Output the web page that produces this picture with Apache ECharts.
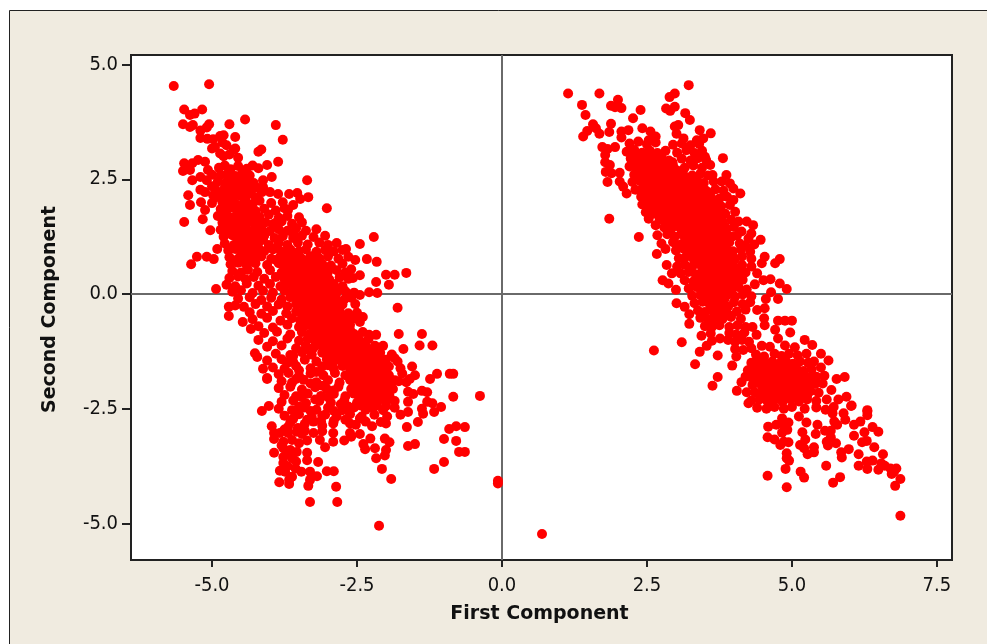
<!DOCTYPE html>
<html><head><meta charset="utf-8">
<style>html,body{margin:0;padding:0;background:#fff}#c{width:987px;height:644px}</style>
<script src="https://cdn.jsdelivr.net/npm/echarts@6/dist/echarts.min.js"></script>
</head><body><div id="c"></div>
<script>
const xTicks=[-5,-2.5,0,2.5,5,7.5];
const yTicks=[-5,-2.5,0,2.5,5];
const xTitle='First Component';
const yTitle='Second Component';
const isolated=[[-0.07,-4.07],[-0.07,-4.13],[0.69,-5.23],[6.87,-4.83],[-2.12,-5.05],[2.62,-1.23],[1.85,1.64],[2.36,1.24]];
const leftEdge=[[-5.66,4.53],[-5.05,4.57],[-5.48,4.02],[-5.38,3.9],[-5.3,3.93],[-5.17,4.02],[-5.5,3.7],[-5.38,3.64],[-5.33,3.68],[-5.05,3.7],[-5.09,3.63],[-5.2,3.56],[-4.7,3.7],[-4.43,3.8],[-3.9,3.68],[-3.78,3.36],[-4.6,3.42],[-5.2,3.4],[-5.08,3.38],[-4.98,3.37],[-4.86,3.44],[-4.8,3.46],[-4.82,3.3],[-5,3.17],[-4.86,3.06],[-4.63,3.14],[-4.2,3.1],[-4.15,3.15],
[-5.48,2.85],[-5.5,2.68],[-5.34,2.85],[-5.24,2.92],[-5.12,2.88],[-5.38,2.7],[-5.2,2.55],[-5.34,2.48],[-5.07,2.7],[-5.09,2.48],[-5.2,2.27],[-5.12,2.22],[-5.41,2.15],[-5.38,1.94],[-5.19,2],[-5.12,1.83],[-5,1.98],[-4.93,2.11],[-4.05,2.81],[-3.86,2.88],[-3.97,2.55],[-4.12,2.48],[-4.12,2.33],[-4.14,2.22],[-4,2.22],[-3.86,2.18],[-3.67,2.18],[-3.53,2.2],[-3.48,2.07],[-3.34,2.11],[-3.36,2.48],[-3.78,2],[-3.6,1.94],[-3.69,1.83],[-3.02,1.87],
[-5.48,1.57],[-5.16,1.63],[-5.03,1.39],[-4.91,0.98],[-5.26,0.81],[-5.36,0.65],[-5.09,0.81],[-4.97,0.76],[-4.93,0.11],[-4.71,-0.28],[-4.71,-0.48],[-4.47,-0.61],[-4.33,-0.76],[-4.26,-1.29],[-4.22,-1.37],[-4.12,-1.63],[-4.05,-1.83],
[-2.21,1.24],[-2.45,1.09],[-2.69,0.98],[-2.33,0.76],[-2.16,0.7],[-2.53,0.74],[-2.6,0.54],[-2.45,0.41],[-2.57,0.35],[-2.17,0.26],[-2.29,0.04],[-2.45,-0.02],[-2.53,-0.22],[-2.5,-0.41],[-2.4,-0.5],[-2.45,-0.61],[-2.29,-0.89],[-2.17,-0.89],[-2.19,-1.13],[-2.0,0.42],[-1.85,0.42],[-1.65,0.46],[-1.95,0.2],[-2.15,0.02],[-1.8,-0.3],[-1.78,-0.87],[-1.38,-0.87],[-1.2,-1.12],[-1.42,-1.12],[-1.85,-1.4],[-1.7,-1.2],
[-4.05,-1.85],[-4.14,-2.55],[-4.02,-2.44],[-3.97,-2.88],[-3.93,-3.46],[-3.84,-4.1],[-3.67,-4.14],[-3.34,-4.18],[-3.31,-4.53],[-2.84,-4.53],[-2.86,-4.2],[-1.91,-4.03],[-2.07,-3.81],[-3.02,-3.86],[-2.9,-3.86],[-3.17,-3.66],[-3.19,-3.97],[-1.17,-3.81],[-1,-3.66],[-0.74,-3.44],[-0.64,-3.44],[-0.79,-3.2],[-1,-3.16],[-1.62,-3.31],[-1.5,-3.27],[-0.91,-2.94],[-0.79,-2.88],[-0.64,-2.9],[-0.38,-2.22],[-0.84,-2.24],[-1.64,-2.9],[-2.24,-2.88],[-2.09,-2.79],[-1.45,-2.79],[-1.62,-2.35],[-1.62,-2.57],[-1.38,-2.5],[-1.36,-2.61],[-1.17,-2.57],[-1.05,-2.46],[-1.29,-2.35],[-1.2,-2.38],[-1.62,-2.13],[-1.53,-2.18],[-1.38,-2.11],[-1.29,-2.14],[-1.24,-1.85],[-1.12,-1.74],[-0.9,-1.74],[-0.84,-1.74],[-1.59,-1.85],[-1.78,-1.9],
[-3.93,-3.03],[-3.83,-3.03],[-3.69,-3.03],[-3.54,-3.0],[-3.69,-2.9],[-3.93,-3.16],[-3.77,-3.22],[-3.62,-3.18],[-3.77,-3.36],[-3.65,-3.4],[-3.54,-3.44],[-3.36,-3.46],[-3.77,-3.55],[-3.62,-3.58],[-3.36,-3.62],[-3.77,-3.68],[-3.83,-3.85],[-3.74,-3.87],[-3.56,-3.8],[-3.46,-3.87],[-3.31,-3.87],[-3.62,-3.98],[-3.67,-4.05],[-3.31,-4.05],
[-3.36,-3.19],[-3.25,-3.03],[-3.14,-3.18],[-3.05,-3.34],[-2.91,-3.22],[-2.72,-3.19],[-2.6,-3.11],[-2.45,-3.05],[-3.1,-2.99],[-2.91,-3.03],[-2.62,-3.03],[-3.36,-2.74],[-3.25,-2.78],[-3.1,-2.87],[-2.91,-2.82],[-2.7,-2.74],[-2.52,-2.85],[-2.45,-2.71],[-2.27,-3.15],[-2.39,-3.27],[-2.36,-3.38],[-2.19,-3.36],[-2.17,-3.58],[-2.02,-3.15],[-1.94,-3.23],[-2.0,-3.4],[-2.02,-3.52]];
const leftDense=[[-4.95,3.2],[-4.75,3.24],[-4.6,3.17],[-4.8,3.0],[-4.7,3.04],[-4.55,2.97],
[-4.88,2.75],[-4.78,2.8],[-4.68,2.72],[-4.55,2.79],[-4.4,2.73],[-4.3,2.8],[-4.2,2.74],[-4.85,2.6],[-4.72,2.64],[-4.6,2.57],[-4.48,2.63],[-4.35,2.58],
[-4.9,2.45],[-4.78,2.41],[-4.65,2.48],[-4.5,2.43],[-4.4,2.47],[-4.28,2.42],[-4.95,2.3],[-4.8,2.27],[-4.7,2.33],[-4.58,2.28],[-4.45,2.32],[-4.32,2.26],[-4.2,2.31],
[-4.85,2.15],[-4.75,2.12],[-4.62,2.18],[-4.5,2.13],[-4.38,2.17],[-4.25,2.11],[-4.82,2.0],[-4.7,2.04],[-4.6,1.97],[-4.42,2.02],[-4.3,1.96],[-4.18,2.03],[-3.98,1.98],
[-4.85,1.85],[-4.75,1.82],[-4.62,1.88],[-4.5,1.83],[-4.38,1.87],[-4.25,1.81],[-4.1,1.86],[-3.9,1.82],[-3.75,1.87],[-4.9,1.7],[-4.78,1.73],[-4.65,1.67],[-4.55,1.72],[-4.42,1.66],[-4.3,1.71],[-4.18,1.68],[-4.02,1.73],[-3.85,1.66],[-3.7,1.7],[-3.5,1.67],
[-4.82,1.55],[-4.7,1.52],[-4.6,1.58],[-4.48,1.53],[-4.35,1.57],[-4.2,1.51],[-4.08,1.56],[-3.95,1.52],[-3.8,1.58],[-3.62,1.53],[-3.45,1.56],[-4.85,1.4],[-4.72,1.43],[-4.58,1.37],[-4.45,1.42],[-4.3,1.38],[-4.15,1.42],[-4.0,1.37],[-3.85,1.41],[-3.7,1.38],[-3.55,1.43],[-3.38,1.38],[-3.2,1.41],
[-4.8,1.25],[-4.65,1.28],[-4.52,1.22],[-4.4,1.27],[-4.25,1.23],[-4.1,1.27],[-3.92,1.22],[-3.78,1.26],[-3.6,1.22],[-3.45,1.27],[-3.25,1.24],[-3.05,1.27],[-4.78,1.1],[-4.62,1.07],[-4.5,1.13],[-4.35,1.08],[-4.2,1.12],[-4.02,1.07],[-3.85,1.11],[-3.7,1.07],[-3.52,1.12],[-3.35,1.08],[-3.15,1.12],[-3,1.07],[-2.85,1.11],
[-4.72,0.95],[-4.6,0.98],[-4.42,0.92],[-4.28,0.97],[-4.1,0.93],[-3.95,0.97],[-3.8,0.92],[-3.65,0.97],[-3.5,0.93],[-3.38,0.97],[-3.2,0.92],[-3.05,0.96],[-2.9,0.93],[-2.75,0.96],[-4.7,0.8],[-4.55,0.77],[-4.45,0.83],[-4.3,0.78],[-4.15,0.82],[-3.98,0.77],[-3.82,0.82],[-3.7,0.78],[-3.58,0.83],[-3.45,0.77],[-3.3,0.82],[-3.15,0.78],[-3,0.82],[-2.82,0.77],[-2.65,0.81],
[-4.68,0.65],[-4.55,0.68],[-4.4,0.62],[-4.25,0.67],[-4.05,0.63],[-3.85,0.67],[-3.72,0.62],[-3.6,0.67],[-3.48,0.63],[-3.35,0.67],[-3.22,0.62],[-3.1,0.66],[-2.95,0.62],[-2.75,0.66],[-4.65,0.5],[-4.5,0.47],[-4.38,0.53],[-4.22,0.48],[-4,0.52],[-3.8,0.47],[-3.68,0.52],[-3.55,0.48],[-3.42,0.53],[-3.3,0.47],[-3.15,0.52],[-3,0.48],[-2.85,0.52],[-2.7,0.47],
[-4.7,0.35],[-4.55,0.38],[-4.42,0.32],[-4.28,0.37],[-4.1,0.33],[-3.9,0.37],[-3.75,0.32],[-3.62,0.37],[-3.5,0.33],[-3.38,0.37],[-3.25,0.32],[-3.12,0.36],[-2.98,0.32],[-2.8,0.36],[-2.65,0.33],[-4.75,0.2],[-4.6,0.17],[-4.4,0.23],[-4.2,0.18],[-4,0.22],[-3.82,0.17],[-3.7,0.22],[-3.58,0.18],[-3.45,0.22],[-3.32,0.17],[-3.2,0.22],[-3.05,0.18],[-2.9,0.22],[-2.75,0.17],
[-4.65,0.05],[-4.5,0.08],[-4.3,0.02],[-4.12,0.07],[-3.95,0.03],[-3.75,0.07],[-3.62,0.02],[-3.5,0.07],[-3.38,0.03],[-3.25,0.07],[-3.12,0.02],[-3,0.06],[-2.85,0.02],[-2.7,0.06],[-2.55,0.03],[-4.55,-0.1],[-4.35,-0.07],[-4.15,-0.13],[-3.98,-0.08],[-3.8,-0.12],[-3.65,-0.07],[-3.52,-0.12],[-3.4,-0.08],[-3.28,-0.13],[-3.15,-0.07],[-3.02,-0.12],[-2.88,-0.08],[-2.72,-0.12],[-2.6,-0.08],
[-4.6,-0.25],[-4.45,-0.28],[-4.25,-0.22],[-4.05,-0.27],[-3.85,-0.23],[-3.7,-0.27],[-3.55,-0.22],[-3.42,-0.27],[-3.3,-0.23],[-3.18,-0.27],[-3.05,-0.22],[-2.9,-0.27],[-2.75,-0.23],[-4.35,-0.4],[-4.15,-0.43],[-3.95,-0.37],[-3.72,-0.42],[-3.55,-0.38],[-3.45,-0.43],[-3.32,-0.37],[-3.2,-0.42],[-3.08,-0.38],[-2.95,-0.43],[-2.8,-0.37],[-2.65,-0.42],
[-4.3,-0.55],[-4.05,-0.52],[-3.82,-0.58],[-3.62,-0.53],[-3.48,-0.57],[-3.35,-0.52],[-3.22,-0.57],[-3.1,-0.53],[-2.98,-0.58],[-2.85,-0.52],[-2.7,-0.57],[-2.55,-0.53],[-4.2,-0.7],[-3.95,-0.73],[-3.7,-0.67],[-3.5,-0.72],[-3.38,-0.68],[-3.25,-0.73],[-3.12,-0.67],[-3,-0.72],[-2.88,-0.68],[-2.75,-0.73],[-2.62,-0.67],
[-4.1,-0.85],[-3.88,-0.82],[-3.65,-0.88],[-3.45,-0.83],[-3.32,-0.87],[-3.2,-0.82],[-3.08,-0.87],[-2.95,-0.83],[-2.82,-0.88],[-2.7,-0.82],[-2.55,-0.87],[-2.4,-0.83],[-4.2,-1],[-3.95,-1.03],[-3.7,-0.97],[-3.5,-1.02],[-3.35,-0.98],[-3.22,-1.03],[-3.1,-0.97],[-2.98,-1.02],[-2.86,-0.98],[-2.74,-1.03],[-2.6,-0.97],[-2.45,-1.02],[-2.3,-0.98],
[-4.05,-1.15],[-3.8,-1.12],[-3.55,-1.18],[-3.38,-1.13],[-3.25,-1.17],[-3.12,-1.12],[-3,-1.17],[-2.88,-1.13],[-2.76,-1.18],[-2.64,-1.12],[-2.5,-1.17],[-2.35,-1.13],[-2.2,-1.17],[-2.05,-1.13],[-3.9,-1.3],[-3.65,-1.33],[-3.45,-1.27],[-3.28,-1.32],[-3.1,-1.28],[-2.98,-1.33],[-2.86,-1.27],[-2.74,-1.32],[-2.62,-1.28],[-2.5,-1.33],[-2.38,-1.27],[-2.25,-1.32],[-2.1,-1.28],[-1.9,-1.32],
[-4.05,-1.45],[-3.8,-1.42],[-3.6,-1.48],[-3.4,-1.43],[-3.2,-1.47],[-3.02,-1.42],[-2.9,-1.47],[-2.78,-1.43],[-2.66,-1.48],[-2.54,-1.42],[-2.42,-1.47],[-2.3,-1.43],[-2.18,-1.47],[-2,-1.43],[-1.8,-1.47],[-3.95,-1.6],[-3.75,-1.63],[-3.55,-1.57],[-3.3,-1.62],[-3.1,-1.58],[-2.9,-1.63],[-2.75,-1.57],[-2.62,-1.62],[-2.5,-1.58],[-2.38,-1.63],[-2.26,-1.57],[-2.12,-1.62],[-1.95,-1.58],[-1.75,-1.62],[-1.55,-1.58],
[-3.85,-1.75],[-3.68,-1.72],[-3.5,-1.78],[-3.3,-1.73],[-3.08,-1.77],[-2.88,-1.72],[-2.7,-1.77],[-2.58,-1.73],[-2.46,-1.78],[-2.34,-1.72],[-2.22,-1.77],[-2.1,-1.73],[-1.95,-1.77],[-1.72,-1.73],[-1.5,-1.77],[-3.8,-1.9],[-3.62,-1.93],[-3.42,-1.87],[-3.2,-1.92],[-3,-1.88],[-2.8,-1.93],[-2.62,-1.87],[-2.5,-1.92],[-2.38,-1.88],[-2.26,-1.93],[-2.14,-1.87],[-2.02,-1.92],[-1.85,-1.88],[-1.65,-1.92],
[-3.85,-2.05],[-3.65,-2.02],[-3.45,-2.08],[-3.22,-2.03],[-3.02,-2.07],[-2.82,-2.02],[-2.6,-2.07],[-2.48,-2.03],[-2.36,-2.08],[-2.24,-2.02],[-2.12,-2.07],[-2,-2.03],[-1.88,-2.07],[-3.75,-2.2],[-3.55,-2.23],[-3.35,-2.17],[-3.12,-2.22],[-2.9,-2.18],[-2.7,-2.23],[-2.55,-2.17],[-2.42,-2.22],[-2.3,-2.18],[-2.18,-2.23],[-2.06,-2.17],[-1.94,-2.22],
[-3.8,-2.35],[-3.6,-2.32],[-3.38,-2.38],[-3.15,-2.33],[-2.95,-2.37],[-2.72,-2.32],[-2.5,-2.37],[-2.38,-2.33],[-2.26,-2.38],[-2.14,-2.32],[-2,-2.37],[-1.85,-2.33],[-3.85,-2.5],[-3.62,-2.53],[-3.4,-2.47],[-3.2,-2.52],[-3,-2.48],[-2.75,-2.53],[-2.55,-2.47],[-2.35,-2.52],[-2.22,-2.48],[-2.05,-2.53],[-1.85,-2.48],
[-3.75,-2.65],[-3.5,-2.62],[-3.28,-2.68],[-3.05,-2.63],[-2.85,-2.67],[-2.62,-2.62],[-2.42,-2.67],[-2.2,-2.63],[-1.98,-2.67],[-1.75,-2.63],[-3.65,-2.8],[-3.4,-2.83],[-3.12,-2.77],[-2.9,-2.76],[-2.62,-2.82],[-2.35,-2.78],[-2,-2.82]];
const leftCore=[[-4.72,2.5],[-4.58,2.4],[-4.45,2.52],[-4.33,2.36],[-4.66,2.22],[-4.52,2.2],[-4.4,2.24],[-4.76,2.06],[-4.64,2.08],[-4.48,1.94],[-4.35,1.92],[-4.7,1.9],[-4.56,1.8],[-4.44,1.78],[-4.32,1.79],[-4.72,1.62],[-4.6,1.64],[-4.5,1.6],[-4.38,1.62],[-4.26,1.6],[-4.78,1.46],[-4.65,1.46],[-4.52,1.47],[-4.42,1.48],[-4.24,1.45],[-4.7,1.33],[-4.58,1.32],[-4.46,1.33],[-4.32,1.31],[-4.18,1.34],[-4.56,1.15],[-4.42,1.16],[-4.28,1.15],[-4.12,1.18],[-4.66,1],[-4.5,1],[-4.35,1.01],[-4.2,1],[-4.5,0.86],[-4.36,0.87],[-4.22,0.87],[-4.6,0.72],[-4.46,0.7],[-4.32,0.72],
[-3.9,1],[-3.72,0.88],[-3.55,0.88],[-3.9,0.74],[-3.78,0.72],[-3.66,0.72],[-3.54,0.72],[-3.42,0.72],[-3.28,0.72],[-3.75,0.57],[-3.62,0.56],[-3.5,0.56],[-3.38,0.58],[-3.24,0.56],[-3.08,0.57],[-3.7,0.42],[-3.56,0.42],[-3.44,0.41],[-3.32,0.42],[-3.2,0.42],[-3.06,0.42],[-3.65,0.28],[-3.52,0.27],[-3.4,0.27],[-3.26,0.26],[-3.14,0.28],[-3,0.27],[-3.6,0.12],[-3.48,0.12],[-3.36,0.12],[-3.22,0.13],[-3.1,0.12],[-2.96,0.12],[-2.82,0.11],[-3.58,-0.03],[-3.44,-0.03],[-3.32,-0.02],[-3.18,-0.03],[-3.06,-0.02],[-2.92,-0.03],[-3.48,-0.18],[-3.36,-0.18],[-3.22,-0.17],[-3.1,-0.18],[-2.96,-0.17],[-2.82,-0.17],[-3.38,-0.33],[-3.26,-0.32],[-3.14,-0.33],[-3,-0.32],[-2.86,-0.33],[-3.42,-0.49],[-3.28,-0.48],[-3.16,-0.48],[-3.04,-0.48],[-2.9,-0.47],[-2.76,-0.48],[-3.3,-0.63],[-3.18,-0.63],[-3.06,-0.63],[-2.94,-0.63],[-2.8,-0.63],[-2.66,-0.62],[-3.25,-0.78],[-3.14,-0.78],[-3.02,-0.78],[-2.88,-0.78],[-2.76,-0.78],[-2.62,-0.78],[-3.28,-0.93],[-3.15,-0.92],[-3.03,-0.93],[-2.9,-0.92],[-2.78,-0.93],[-2.66,-0.93],[-2.52,-0.93],[-3.16,-1.07],[-3.04,-1.08],[-2.92,-1.07],[-2.8,-1.08],[-2.68,-1.07],[-2.56,-1.08],[-2.42,-1.08],
[-2.92,-1.23],[-2.8,-1.23],[-2.68,-1.22],[-2.56,-1.23],[-2.44,-1.22],[-2.32,-1.23],[-2.18,-1.23],[-2.84,-1.38],[-2.72,-1.38],[-2.6,-1.37],[-2.48,-1.38],[-2.36,-1.37],[-2.24,-1.38],[-2.1,-1.38],[-2.68,-1.53],[-2.56,-1.52],[-2.44,-1.53],[-2.32,-1.52],[-2.2,-1.53],[-2.06,-1.52],[-2.56,-1.68],[-2.44,-1.67],[-2.32,-1.68],[-2.2,-1.67],[-2.06,-1.67],[-2.52,-1.83],[-2.4,-1.82],[-2.28,-1.83],[-2.16,-1.82],[-2.04,-1.83],[-2.56,-1.98],[-2.42,-1.97],[-2.3,-1.98],[-2.18,-1.97],[-2.06,-1.98],[-1.94,-1.97],[-2.48,-2.13],[-2.36,-2.12],[-2.24,-2.13],[-2.12,-2.12],[-2,-2.13],[-2.46,-2.28],[-2.34,-2.27],[-2.22,-2.28],[-2.1,-2.27],[-1.96,-2.28],[-2.44,-2.43],[-2.3,-2.43],[-2.16,-2.43],[-2,-2.44],
[-3.4,-1.22],[-3.6,-1.35],[-3.7,-1.5],[-3.5,-1.66],[-3.2,-1.7],[-3,-1.55],[-3.55,-1.85],[-3.3,-1.95],[-3.1,-2],[-2.9,-2.1],[-3.45,-2.25],[-3.22,-2.3],[-3,-2.25],[-2.78,-2.4],[-3.5,-2.45],[-3.3,-2.55],[-3.1,-2.65],[-2.9,-2.55],[-2.65,-2.45],[-3.6,-2.72],[-3.52,-2.92],[-3.4,-2.98],[-3.75,-2.95],[-3.8,-3.3],[-3.7,-3.48],[-3.5,-3.25],[-3.45,-3.05],[-3.55,-3.65],[-3.7,-3.75],[-5,2.6],[-5,2.35],[-4.98,2.15],[-3.9,1.55],[-3.6,1.3]];
const rightEdge=[[1.14,4.37],[1.68,4.37],[1.38,4.12],[1.44,3.9],[1.88,4.1],[2,4.23],[1.95,4.07],[2.06,4.05],[2.39,4.01],[2.26,3.83],[1.88,3.71],[1.85,3.53],[1.57,3.7],[1.47,3.55],[1.4,3.43],[1.62,3.61],[1.68,3.49],[1.73,3.2],[1.82,3.16],[1.95,3.2],[1.78,3.03],[1.78,2.87],[1.86,2.81],[1.79,2.66],[1.89,2.63],[2.03,2.64],[1.82,2.44],[2.03,2.45],[2.09,2.34],[2.15,2.19],[2.53,1.64],[2.65,1.5],
[3.22,4.55],[2.98,4.37],[2.89,4.29],[2.83,4.04],[2.9,3.99],[2.98,4.08],[3.16,3.94],[3.24,3.79],[2.98,3.65],[3.04,3.68],[3.01,3.49],[2.56,3.54],[2.42,3.61],[2.18,3.57],[2.06,3.54],[2.06,3.41],[2.65,3.43],[2.53,3.35],[3.41,3.57],[3.6,3.5],[3.47,3.39],[3.13,3.39],[3.36,3.35],[3.81,2.96],[3.5,2.99],[3.59,2.81],[3.63,2.59],[3.87,2.59],[3.79,2.45],[3.93,2.41],[3.99,2.3],[4.11,2.19],[3.99,2.05],[3.93,1.94],[4.02,1.79],[4.22,1.58],[4.33,1.5],[4.13,1.36],[4.25,1.21],[4.46,1.18],[4.1,1.1],
[3.1,-1.05],[3.33,-1.53],[3.72,-1.81],[3.63,-2],[3.97,-1.56],[2.67,0.87],[2.77,0.3],[2.87,0.23],[2.93,0.45],[2.84,0.63],[3,0.09],[3.01,-0.2],[3.15,-0.28],[3.23,-0.44],[3.23,-0.65],[3.44,-0.91],[3.76,-0.97],[3.53,-1.13],[3.41,-1.26],[3.72,-1.34],[3.9,-1],
[4.79,0.76],[4.71,0.67],[4.53,0.81],[4.48,0.67],[4.4,0.45],[4.51,0.3],[4.63,0.32],[4.79,0.23],[4.91,0.11],[4.36,0.21],[4.64,0.04],[4.55,-0.11],[4.76,-0.11],[4.4,-0.35],[4.53,-0.31],[4.52,-0.53],[4.76,-0.58],[4.88,-0.58],[5,-0.58],[4.53,-0.68],[4.71,-0.78],[4.97,-0.84],[4.32,-0.72],[4.39,-0.89],[4.76,-0.97],[5.22,-1],[5.35,-1.11],[5.5,-1.3],[5.63,-1.45],[5.5,-1.6],[5.91,-1.81],[5.77,-1.85],[5.56,-1.78],[5.53,-1.95],[5.68,-2.09],[5.94,-2.24],[6.03,-2.43],[6.3,-2.53],[4.05,-2.11],[4.22,-2.14],[4.13,-1.92],[4.25,-2.38],
[6.78,-4.18],[6.87,-4.03],[6.8,-3.8],[6.7,-3.8],[6.72,-3.92],[6.76,-3.87],[6.49,-3.83],[6.54,-3.69],[6.39,-3.63],[6.29,-3.65],[6.3,-3.81],[6.15,-3.74],[6.6,-3.74],[6.57,-3.49],[6.42,-3.34],[6.15,-3.49],[6.49,-3],[6.39,-2.9],[6.25,-3.01],[6.29,-3.2],[6.21,-3.23],[6.07,-3.09],[6.3,-2.56],[6.3,-2.64],[6.18,-2.78],[6.07,-2.85],[5.92,-2.74],[6.02,-2.44],[5.89,-2.6],
[5.83,-3.99],[5.71,-4.11],[5.59,-3.74],[5.21,-4],[5.15,-3.87],[4.91,-4.21],[4.89,-3.81],[4.58,-3.96],[4.95,-3.63],[4.91,-3.47],[4.91,-3.58],[4.58,-3.12],[4.7,-3.17],[4.8,-3.29],[4.94,-3.23],[4.86,-3.22],[4.59,-2.89],[4.73,-2.85],[4.83,-2.71],[4.94,-2.8],[4.92,-2.96],[4.83,-3.02],[4.86,-2.85],
[5.25,-2.8],[5.12,-2.67],[5.44,-2.85],[5.18,-3.01],[5.41,-3.05],[5.23,-3.17],[5.14,-3.29],[5.38,-3.34],[5.21,-3.36],[5.38,-3.45],[5.27,-3.49],[5.57,-2.98],[5.67,-2.98],[5.73,-2.78],[5.7,-2.6],[5.67,-3.12],[5.6,-3.22],[5.76,-3.25],[5.62,-3.3],[5.85,-3.45],[5.98,-3.38],[5.86,-3.56],[5.78,-2.85]];
const rightDense=[[2.2,3.28],[2.35,3.32],[2.5,3.26],[2.65,3.3],[2.95,3.25],[3.1,3.28],[3.25,3.24],[3.4,3.27],
[2.15,3.1],[2.28,3.14],[2.42,3.08],[2.55,3.12],[2.68,3.07],[2.82,3.12],[3.02,3.08],[3.18,3.13],[3.32,3.07],[3.45,3.12],[2.22,2.95],[2.35,2.92],[2.48,2.97],[2.6,2.92],[2.72,2.96],[2.88,2.91],[3.1,2.95],[3.25,2.91],[3.38,2.96],[3.52,2.92],
[2.2,2.78],[2.32,2.75],[2.45,2.8],[2.58,2.75],[2.7,2.8],[2.82,2.75],[2.95,2.8],[3.15,2.75],[3.3,2.8],[3.45,2.75],[2.28,2.6],[2.4,2.64],[2.52,2.58],[2.64,2.63],[2.76,2.58],[2.88,2.63],[3,2.58],[3.12,2.63],[3.28,2.58],[3.42,2.62],[3.55,2.58],
[2.25,2.44],[2.38,2.47],[2.5,2.42],[2.62,2.46],[2.74,2.41],[2.86,2.46],[2.98,2.41],[3.1,2.46],[3.22,2.41],[3.35,2.46],[3.48,2.42],[3.65,2.45],[2.3,2.27],[2.42,2.3],[2.55,2.25],[2.68,2.3],[2.8,2.25],[2.92,2.3],[3.04,2.25],[3.16,2.3],[3.28,2.25],[3.4,2.3],[3.52,2.25],[3.68,2.28],[3.82,2.25],
[2.4,2.12],[2.52,2.08],[2.64,2.13],[2.76,2.08],[2.88,2.13],[3,2.08],[3.12,2.13],[3.24,2.08],[3.36,2.12],[3.48,2.07],[3.6,2.12],[3.75,2.08],[3.88,2.12],[2.42,1.95],[2.56,1.92],[2.68,1.96],[2.8,1.91],[2.92,1.96],[3.04,1.91],[3.16,1.96],[3.28,1.91],[3.4,1.96],[3.52,1.91],[3.64,1.95],[3.78,1.91],
[2.48,1.78],[2.62,1.75],[2.74,1.8],[2.86,1.75],[2.98,1.8],[3.1,1.75],[3.22,1.8],[3.34,1.75],[3.46,1.8],[3.58,1.75],[3.7,1.8],[3.85,1.75],[2.72,1.62],[2.84,1.58],[2.96,1.63],[3.08,1.58],[3.2,1.63],[3.32,1.58],[3.44,1.63],[3.56,1.58],[3.68,1.63],[3.8,1.58],[3.95,1.62],[4.08,1.58],
[2.8,1.45],[2.92,1.42],[3.04,1.47],[3.16,1.42],[3.28,1.47],[3.4,1.42],[3.52,1.47],[3.64,1.42],[3.76,1.47],[3.88,1.42],[4,1.46],[2.68,1.28],[2.85,1.3],[2.98,1.25],[3.1,1.3],[3.22,1.25],[3.34,1.3],[3.46,1.25],[3.58,1.3],[3.7,1.25],[3.84,1.3],[3.96,1.25],[4.3,1.32],
[2.75,1.1],[2.95,1.13],[3.08,1.08],[3.2,1.13],[3.32,1.08],[3.44,1.13],[3.56,1.08],[3.68,1.13],[3.8,1.08],[3.92,1.13],[4.05,1.27],[4.2,1.05],[4.35,1.08],[2.82,0.98],[3,0.95],[3.14,0.98],[3.26,0.93],[3.38,0.98],[3.5,0.93],[3.62,0.98],[3.74,0.93],[3.86,0.98],[3.98,0.93],[4.12,0.97],[4.28,0.92],
[3.05,0.78],[3.18,0.82],[3.3,0.77],[3.42,0.82],[3.54,0.77],[3.66,0.82],[3.78,0.77],[3.9,0.82],[4.02,0.77],[4.14,0.82],[4.3,0.77],[3.02,0.6],[3.15,0.64],[3.28,0.6],[3.4,0.65],[3.52,0.6],[3.64,0.65],[3.76,0.6],[3.88,0.65],[4,0.6],[4.14,0.63],[4.3,0.6],
[3.08,0.45],[3.22,0.48],[3.34,0.43],[3.46,0.48],[3.58,0.43],[3.7,0.48],[3.82,0.43],[3.94,0.48],[4.06,0.43],[4.2,0.47],[3.15,0.3],[3.3,0.27],[3.42,0.32],[3.54,0.27],[3.66,0.32],[3.78,0.27],[3.9,0.32],[4.02,0.27],[4.15,0.31],[3.22,0.12],[3.36,0.15],[3.48,0.1],[3.6,0.15],[3.72,0.1],[3.84,0.15],[3.96,0.1],[4.08,0.15],[4.22,0.1],
[3.28,-0.04],[3.42,-0.02],[3.54,-0.06],[3.66,-0.01],[3.78,-0.06],[3.9,-0.01],[4.02,-0.06],[4.15,-0.01],[4.3,-0.05],[3.32,-0.2],[3.46,-0.17],[3.58,-0.22],[3.7,-0.17],[3.82,-0.22],[4,-0.18],[4.15,-0.22],[4.28,-0.18],[3.38,-0.36],[3.5,-0.39],[3.62,-0.34],[3.74,-0.39],[3.86,-0.34],[4.05,-0.38],[4.2,-0.34],
[3.42,-0.52],[3.55,-0.55],[3.68,-0.5],[3.8,-0.55],[3.95,-0.5],[4.12,-0.54],[3.5,-0.7],[3.62,-0.72],[3.75,-0.68],[3.92,-0.72],[4.06,-0.68],[4.2,-0.72],[3.6,-0.86],[3.92,-0.85],[4.04,-0.88],[4.18,-0.84],[3.62,-1.02],[4.02,-1.04],[4.14,-1],[4.26,-1.04],[4.02,-1.2],[4.16,-1.22],[4.3,-1.18],[4.48,-1.13],[4.62,-1.15],[4.88,-1.12],[5.05,-1.16],[4.04,-1.36],[4.38,-1.32],[4.52,-1.36],[4.7,-1.3],[4.82,-1.35],[4.95,-1.3],[5.1,-1.34],[5.25,-1.3],
[4.3,-1.5],[4.42,-1.47],[4.54,-1.52],[4.66,-1.47],[4.78,-1.52],[4.9,-1.47],[5.02,-1.52],[5.14,-1.47],[5.28,-1.5],[5.38,-1.47],[4.24,-1.66],[4.36,-1.63],[4.48,-1.68],[4.6,-1.63],[4.72,-1.68],[4.84,-1.63],[4.96,-1.68],[5.08,-1.63],[5.2,-1.68],[5.34,-1.64],[4.2,-1.8],[4.32,-1.83],[4.44,-1.78],[4.56,-1.83],[4.68,-1.78],[4.8,-1.83],[4.92,-1.78],[5.04,-1.83],[5.16,-1.78],[5.3,-1.82],[5.42,-1.8],
[4.32,-1.98],[4.44,-1.95],[4.56,-2],[4.68,-1.95],[4.8,-2],[4.92,-1.95],[5.04,-2],[5.16,-1.95],[5.28,-2],[5.4,-1.96],[4.36,-2.14],[4.48,-2.17],[4.6,-2.12],[4.72,-2.17],[4.84,-2.12],[4.96,-2.17],[5.08,-2.12],[5.2,-2.17],[5.32,-2.12],[5.46,-2.15],[4.3,-2.32],[4.44,-2.3],[4.58,-2.34],[4.7,-2.3],[4.84,-2.35],[4.98,-2.3],[5.12,-2.34],[5.26,-2.3],[5.42,-2.33],[5.6,-2.3],[5.8,-2.3],[4.4,-2.48],[4.56,-2.5],[4.7,-2.46],[4.86,-2.5],[5,-2.46],[5.22,-2.5],[5.42,-2.47],[5.58,-2.52],[5.72,-2.46]];
const rightCore=[[2.3,3.02],[2.45,3],[2.6,3.02],[2.75,3.02],[2.28,2.85],[2.42,2.85],[2.54,2.85],[2.66,2.86],[2.8,2.85],[2.94,2.87],[2.38,2.7],[2.5,2.69],[2.62,2.68],[2.76,2.69],[2.88,2.7],[3.02,2.69],[2.34,2.52],[2.46,2.52],[2.58,2.52],[2.7,2.52],[2.82,2.52],[2.94,2.52],[3.06,2.52],[3.2,2.52],[3.36,2.53],[2.44,2.36],[2.56,2.36],[2.68,2.36],[2.8,2.35],[2.92,2.36],[3.04,2.35],[3.16,2.36],[3.28,2.35],[3.42,2.36],[2.48,2.2],[2.6,2.19],[2.72,2.2],[2.84,2.19],[2.96,2.2],[3.08,2.19],[3.2,2.2],[3.32,2.19],[3.44,2.19],[3.58,2.2],[2.58,2.03],[2.7,2.03],[2.82,2.02],[2.94,2.03],[3.06,2.02],[3.18,2.03],[3.3,2.02],[3.42,2.03],[3.54,2.02],[3.68,2.03],[2.62,1.86],[2.74,1.87],[2.86,1.86],[2.98,1.87],[3.1,1.86],[3.22,1.87],[3.34,1.86],[3.46,1.87],[3.58,1.86],[3.72,1.87],[2.8,1.68],[2.92,1.69],[3.04,1.68],[3.16,1.69],[3.28,1.68],[3.4,1.69],[3.52,1.68],[3.64,1.69],[3.76,1.68],[2.98,1.52],[3.1,1.5],[3.22,1.52],[3.34,1.5],[3.46,1.52],[3.58,1.5],[3.7,1.52],[3.82,1.5],[3.1,1.36],[3.22,1.35],[3.34,1.36],[3.46,1.35],[3.58,1.36],[3.7,1.35],[3.82,1.36],[3.16,1.19],[3.28,1.19],[3.4,1.19],[3.52,1.18],[3.64,1.19],[3.76,1.18],[3.88,1.19],[3.26,1.03],[3.38,1.03],[3.5,1.03],[3.62,1.03],[3.74,1.03],[3.86,1.03],[3.36,0.87],[3.48,0.87],[3.6,0.87],[3.72,0.87],[3.84,0.87],[3.96,0.86],[3.36,0.71],[3.48,0.71],[3.6,0.71],[3.72,0.71],[3.84,0.71],[3.96,0.71],[3.46,0.54],[3.58,0.54],[3.7,0.54],[3.82,0.54],[3.94,0.54],[4.06,0.54],[3.5,0.37],[3.62,0.37],[3.74,0.37],[3.86,0.37],[3.98,0.37],[3.48,0.21],[3.6,0.21],[3.72,0.21],[3.84,0.21],[3.96,0.21],[3.54,0.05],[3.66,0.05],[3.78,0.05],[3.9,0.05],[3.6,-0.1],[3.72,-0.1],[3.84,-0.1],[3.66,-0.27],[3.78,-0.27],[3.9,-0.27],[3.66,-0.44],[3.78,-0.44],[3.9,-0.44],[3.62,-0.6],
[4.4,-1.58],[4.52,-1.58],[4.64,-1.58],[4.76,-1.58],[4.88,-1.57],[5,-1.58],[4.34,-1.74],[4.46,-1.74],[4.58,-1.74],[4.7,-1.74],[4.82,-1.74],[4.94,-1.74],[5.06,-1.74],[4.38,-1.9],[4.5,-1.9],[4.62,-1.9],[4.74,-1.9],[4.86,-1.9],[4.98,-1.9],[5.1,-1.9],[5.22,-1.9],[4.5,-2.06],[4.62,-2.06],[4.74,-2.06],[4.86,-2.06],[4.98,-2.06],[5.1,-2.06],[5.22,-2.06],[4.54,-2.22],[4.66,-2.23],[4.78,-2.23],[4.9,-2.23],[5.02,-2.23],[5.14,-2.23],[5.26,-2.23]];
const chart=echarts.init(document.getElementById('c'),null,{renderer:'canvas'});
const allPoints=[].concat(isolated,leftEdge,leftDense,leftCore,rightEdge,rightDense,rightCore);
const tickFont={color:'#111',fontSize:20,fontFamily:'"DejaVu Sans Condensed","Noto Sans"'};
chart.setOption({
  animation:false,
  backgroundColor:'#fff',
  graphic:[{type:'rect',z:-1,shape:{x:9.5,y:10.5,width:990,height:650},style:{fill:'#f0ebe0',stroke:'#222',lineWidth:1}}],
  grid:{left:131,top:55,width:821,height:505,show:true,backgroundColor:'#fff',borderColor:'#222',borderWidth:2},
  xAxis:{type:'value',min:-6.397,max:7.76,name:xTitle,nameLocation:'middle',nameGap:45,
    nameTextStyle:{fontFamily:'"DejaVu Sans"',fontWeight:'bold',fontSize:19,color:'#111',padding:[0,0,0,-4]},
    splitLine:{show:false},axisLine:{onZero:false,lineStyle:{color:'#222',width:2}},
    axisTick:{customValues:xTicks,length:7,lineStyle:{color:'#222',width:2}},
    axisLabel:Object.assign({customValues:xTicks,margin:16,showMinLabel:true,showMaxLabel:true,formatter:v=>v.toFixed(1)},tickFont)},
  yAxis:{type:'value',min:-5.795,max:5.207,name:yTitle,nameLocation:'middle',nameGap:71,
    nameTextStyle:{fontFamily:'"DejaVu Sans"',fontWeight:'bold',fontSize:19,color:'#111',padding:[0,0,0,-4]},
    splitLine:{show:false},axisLine:{onZero:false,lineStyle:{color:'#222',width:2}},
    axisTick:{customValues:yTicks,length:9,lineStyle:{color:'#222',width:2}},
    axisLabel:Object.assign({customValues:yTicks,margin:13,formatter:v=>v.toFixed(1)},tickFont)},
  series:[{type:'scatter',data:allPoints,symbol:'circle',symbolSize:10,itemStyle:{color:'#ff0000',opacity:1},silent:true,large:false,
    markLine:{silent:true,symbol:'none',label:{show:false},z:1,lineStyle:{color:'#6a6a6a',width:2,type:'solid'},data:[{xAxis:0},{yAxis:0}]}}]
});
</script></body></html>
